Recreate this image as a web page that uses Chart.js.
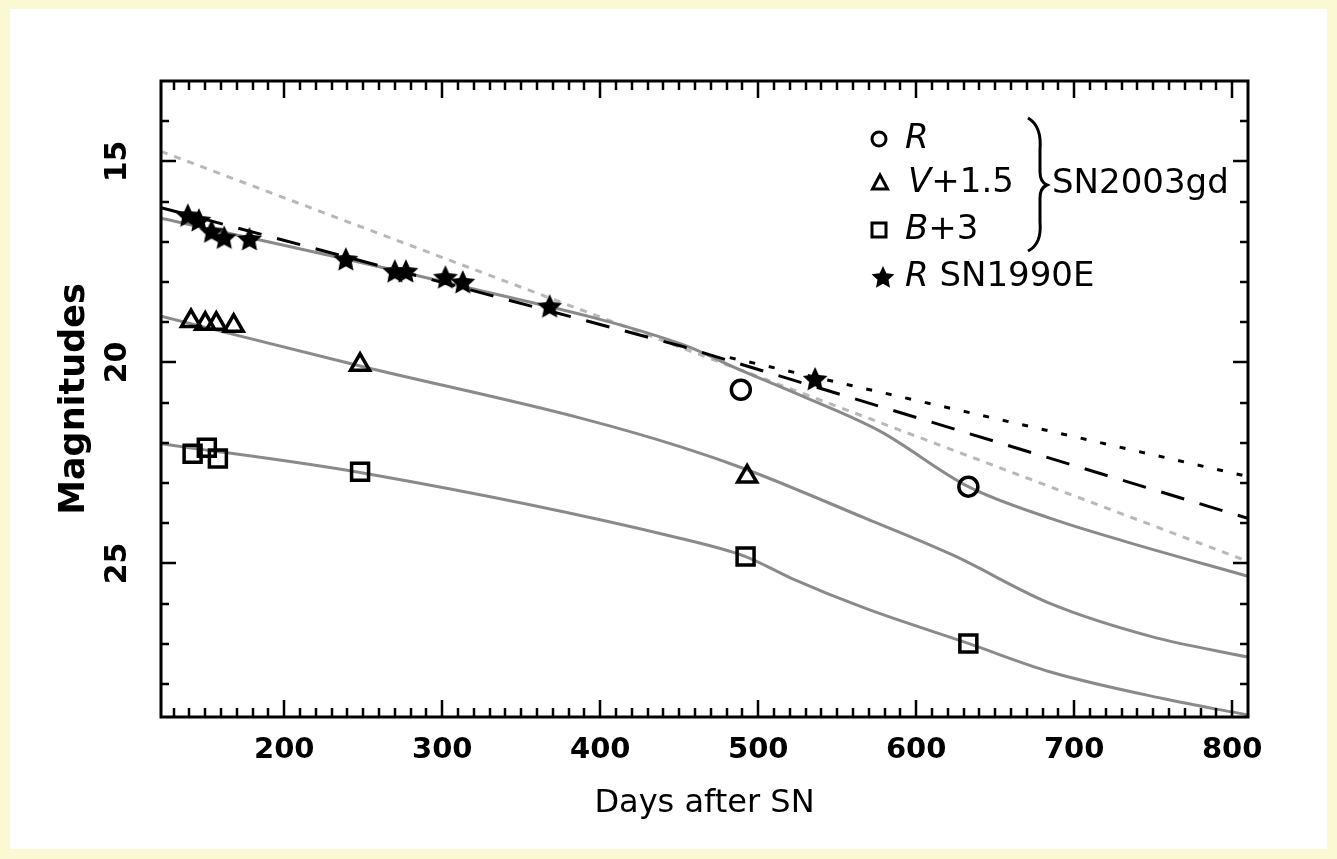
<!DOCTYPE html>
<html>
<head>
<meta charset="utf-8">
<title>SN2003gd late-time light curve</title>
<script src="https://cdn.jsdelivr.net/npm/chart.js@4.4.1/dist/chart.umd.min.js"></script>
<style>
    body {
        margin: 0;
        background: #fbf8d4;
    }

    #sheet {
        position: absolute;
        left: 10px;
        top: 9px;
        width: 1317px;
        height: 840px;
        background: #ffffff;
    }

    #lightCurve {
        position: absolute;
        left: 0;
        top: 0;
    }
</style>
</head>
<body>
<div id="sheet"></div>
<canvas id="lightCurve" width="1337" height="859"></canvas>
<script>
const xTickValues = [200, 300, 400, 500, 600, 700, 800];
const yTickValues = [15, 20, 25];

// SN2003gd photometry (V and B shifted as in the legend)
const rDays = [489, 633];
const rMags = [20.68, 23.09];
const vDays = [141, 150, 157, 168, 248, 493];
const vMags = [18.97, 19.04, 19.04, 19.09, 20.06, 22.84];
const bDays = [142, 151, 158, 248, 492, 633];
const bMags = [22.27, 22.12, 22.39, 22.72, 24.83, 26.99];

// SN1990E, R band
const starDays = [139, 146, 154, 162, 178, 239, 270, 277, 302, 313, 368, 536];
const starMags = [16.34, 16.46, 16.74, 16.89, 16.93, 17.43, 17.73, 17.73, 17.88, 18.0, 18.6, 20.41];

// fitted curves
const rFitDays = [122, 299, 451, 490, 528, 577, 633, 685, 732, 810];
const rFitMags = [16.41, 17.98, 19.54, 20.21, 20.84, 21.71, 23.09, 23.88, 24.45, 25.32];
const vFitDays = [122, 248, 387, 451, 493, 568, 623, 685, 749, 810];
const vFitMags = [18.85, 20.09, 21.38, 22.10, 22.67, 23.88, 24.79, 26.0, 26.82, 27.33];
const bFitDays = [122, 248, 451, 492, 521, 568, 633, 685, 756, 810];
const bFitMags = [22.02, 22.74, 24.38, 24.83, 25.37, 26.12, 26.99, 27.7, 28.36, 28.77];

const templateDays = [122, 451, 810];
const templateMags = [16.15, 19.59, 23.88];
const cobaltDays = [482, 810];
const cobaltMags = [19.88, 22.84];
const linearDays = [122, 810];
const linearMags = [14.75, 24.95];

const FONT = '"DejaVu Sans", "Liberation Sans", sans-serif';

function pairs(xs, ys) {
    return xs.map((x, i) => ({ x: x, y: ys[i] }));
}

function makeStar(size) {
    const c = document.createElement('canvas');
    c.width = size;
    c.height = size;
    const g = c.getContext('2d');
    const r = size / 2 - 1;
    const cx = size / 2;
    const cy = size / 2 + 1;
    g.beginPath();
    for (let i = 0; i < 10; i++) {
        const rad = i % 2 === 0 ? r : r * 0.48;
        const a = -Math.PI / 2 + i * Math.PI / 5;
        const px = cx + rad * Math.cos(a);
        const py = cy + rad * Math.sin(a);
        if (i === 0) {
            g.moveTo(px, py);
        } else {
            g.lineTo(px, py);
        }
    }
    g.closePath();
    g.fillStyle = '#000';
    g.fill();
    return c;
}

const starPoint = makeStar(28);
const legendStar = makeStar(26);

function markerSet(label, xs, ys, style, radius) {
    return {
        label: label,
        data: pairs(xs, ys),
        showLine: false,
        pointStyle: style,
        pointRadius: radius,
        pointBorderWidth: 3.5,
        pointBorderColor: '#000',
        pointBackgroundColor: 'rgba(0,0,0,0)'
    };
}

function curveSet(label, xs, ys, color, dash, smooth) {
    return {
        label: label,
        data: pairs(xs, ys),
        showLine: true,
        pointRadius: 0,
        borderColor: color,
        borderWidth: 3,
        borderDash: dash,
        cubicInterpolationMode: smooth ? 'monotone' : 'default',
        tension: 0
    };
}

function drawLegendMarker(ctx, kind, x, y) {
    ctx.beginPath();
    if (kind === 'circle') {
        ctx.arc(x, y, 7, 0, Math.PI * 2);
    } else if (kind === 'triangle') {
        ctx.moveTo(x, y - 8);
        ctx.lineTo(x + 7.5, y + 6);
        ctx.lineTo(x - 7.5, y + 6);
        ctx.closePath();
    } else {
        ctx.rect(x - 7, y - 7, 14, 14);
    }
    ctx.stroke();
}

function drawMixed(ctx, parts, x, y) {
    parts.forEach(function (p) {
        ctx.font = (p[1] ? 'italic ' : '') + '34px ' + FONT;
        ctx.fillText(p[0], x, y);
        x += ctx.measureText(p[0]).width;
    });
}

const frameAndLegend = {
    id: 'frameAndLegend',
    afterDraw(chart) {
        const ctx = chart.ctx;
        const area = chart.chartArea;
        const xs = chart.scales.x;
        const ys = chart.scales.y;

        ctx.save();
        ctx.strokeStyle = '#000';
        ctx.fillStyle = '#000';

        // ticks on all four sides, pointing inward
        ctx.lineWidth = 2.5;
        ctx.beginPath();
        for (let d = 130; d < 810; d += 10) {
            const px = Math.round(xs.getPixelForValue(d));
            const len = d % 100 === 0 ? 17 : 9;
            ctx.moveTo(px, area.bottom);
            ctx.lineTo(px, area.bottom - len);
            ctx.moveTo(px, area.top);
            ctx.lineTo(px, area.top + len);
        }
        for (let m = 14; m <= 28; m++) {
            const py = Math.round(ys.getPixelForValue(m));
            const len = m % 5 === 0 ? 15 : 8;
            ctx.moveTo(area.left, py);
            ctx.lineTo(area.left + len, py);
            ctx.moveTo(area.right, py);
            ctx.lineTo(area.right - len, py);
        }
        ctx.stroke();

        ctx.lineWidth = 3;
        ctx.strokeRect(area.left, area.top, area.right - area.left, area.bottom - area.top);

        // legend
        ctx.textBaseline = 'middle';
        ctx.textAlign = 'left';
        ctx.lineWidth = 3;
        drawLegendMarker(ctx, 'circle', 879, 139);
        drawMixed(ctx, [['R', true]], 905, 139);
        drawLegendMarker(ctx, 'triangle', 880, 183);
        drawMixed(ctx, [['V', true], ['+1.5', false]], 908, 183);
        drawLegendMarker(ctx, 'rect', 879, 230);
        drawMixed(ctx, [['B', true], ['+3', false]], 905, 230);
        ctx.drawImage(legendStar, 870, 264);
        drawMixed(ctx, [['R', true], [' SN1990E', false]], 905, 277);

        ctx.lineWidth = 3;
        ctx.beginPath();
        ctx.moveTo(1028, 118);
        ctx.quadraticCurveTo(1042, 126, 1040, 150);
        ctx.lineTo(1040, 172);
        ctx.quadraticCurveTo(1040, 182, 1047, 185);
        ctx.quadraticCurveTo(1040, 188, 1040, 198);
        ctx.lineTo(1040, 222);
        ctx.quadraticCurveTo(1042, 244, 1028, 251);
        ctx.stroke();
        drawMixed(ctx, [['SN2003gd', false]], 1052, 184);

        ctx.restore();
    }
};

new Chart(document.getElementById('lightCurve'), {
    type: 'scatter',
    data: {
        datasets: [
            markerSet('R SN1990E', starDays, starMags, starPoint, 14),
            markerSet('R', rDays, rMags, 'circle', 9.5),
            markerSet('V+1.5', vDays, vMags, 'triangle', 11),
            markerSet('B+3', bDays, bMags, 'rect', 12),
            curveSet('SN1990E template', templateDays, templateMags, '#000', [24, 16], false),
            curveSet('56Co decay', cobaltDays, cobaltMags, '#000', [6, 14], false),
            curveSet('R fit', rFitDays, rFitMags, '#8a8a8a', [], true),
            curveSet('V fit', vFitDays, vFitMags, '#8a8a8a', [], true),
            curveSet('B fit', bFitDays, bFitMags, '#8a8a8a', [], true),
            curveSet('linear decline', linearDays, linearMags, '#b8b8b8', [7, 7], false)
        ]
    },
    options: {
        responsive: false,
        devicePixelRatio: 1,
        animation: false,
        layout: {
            padding: {
                top: 81,
                right: 89,
                left: 0,
                bottom: 0
            }
        },
        plugins: {
            legend: {
                display: false
            },
            tooltip: {
                enabled: false
            }
        },
        scales: {
            x: {
                type: 'linear',
                position: 'bottom',
                min: 122,
                max: 810,
                grid: {
                    display: false,
                    drawTicks: false
                },
                border: {
                    display: false
                },
                ticks: {
                    color: '#000',
                    padding: 16,
                    autoSkip: false,
                    maxRotation: 0,
                    font: {
                        family: FONT,
                        size: 29,
                        weight: 'bold'
                    }
                },
                afterBuildTicks: (scale) => {
                    scale.ticks = xTickValues.map(v => ({ value: v }));
                },
                afterFit: (scale) => {
                    scale.height = 142;
                },
                title: {
                    display: true,
                    text: 'Days after SN',
                    color: '#000',
                    font: {
                        family: FONT,
                        size: 32
                    },
                    padding: {
                        top: 0,
                        bottom: 36
                    }
                }
            },
            y: {
                type: 'linear',
                reverse: true,
                min: 13,
                max: 28.82,
                grid: {
                    display: false,
                    drawTicks: false
                },
                border: {
                    display: false
                },
                ticks: {
                    color: '#000',
                    padding: 22,
                    minRotation: 90,
                    maxRotation: 90,
                    crossAlign: 'center',
                    font: {
                        family: FONT,
                        size: 30,
                        weight: 'bold'
                    }
                },
                afterBuildTicks: (scale) => {
                    scale.ticks = yTickValues.map(v => ({ value: v }));
                },
                afterFit: (scale) => {
                    scale.width = 161;
                },
                title: {
                    display: true,
                    text: 'Magnitudes',
                    color: '#000',
                    font: {
                        family: FONT,
                        size: 35,
                        weight: 'bold'
                    },
                    padding: {
                        top: 54,
                        bottom: 0
                    }
                }
            }
        }
    },
    plugins: [frameAndLegend]
});
</script>
</body>
</html>
